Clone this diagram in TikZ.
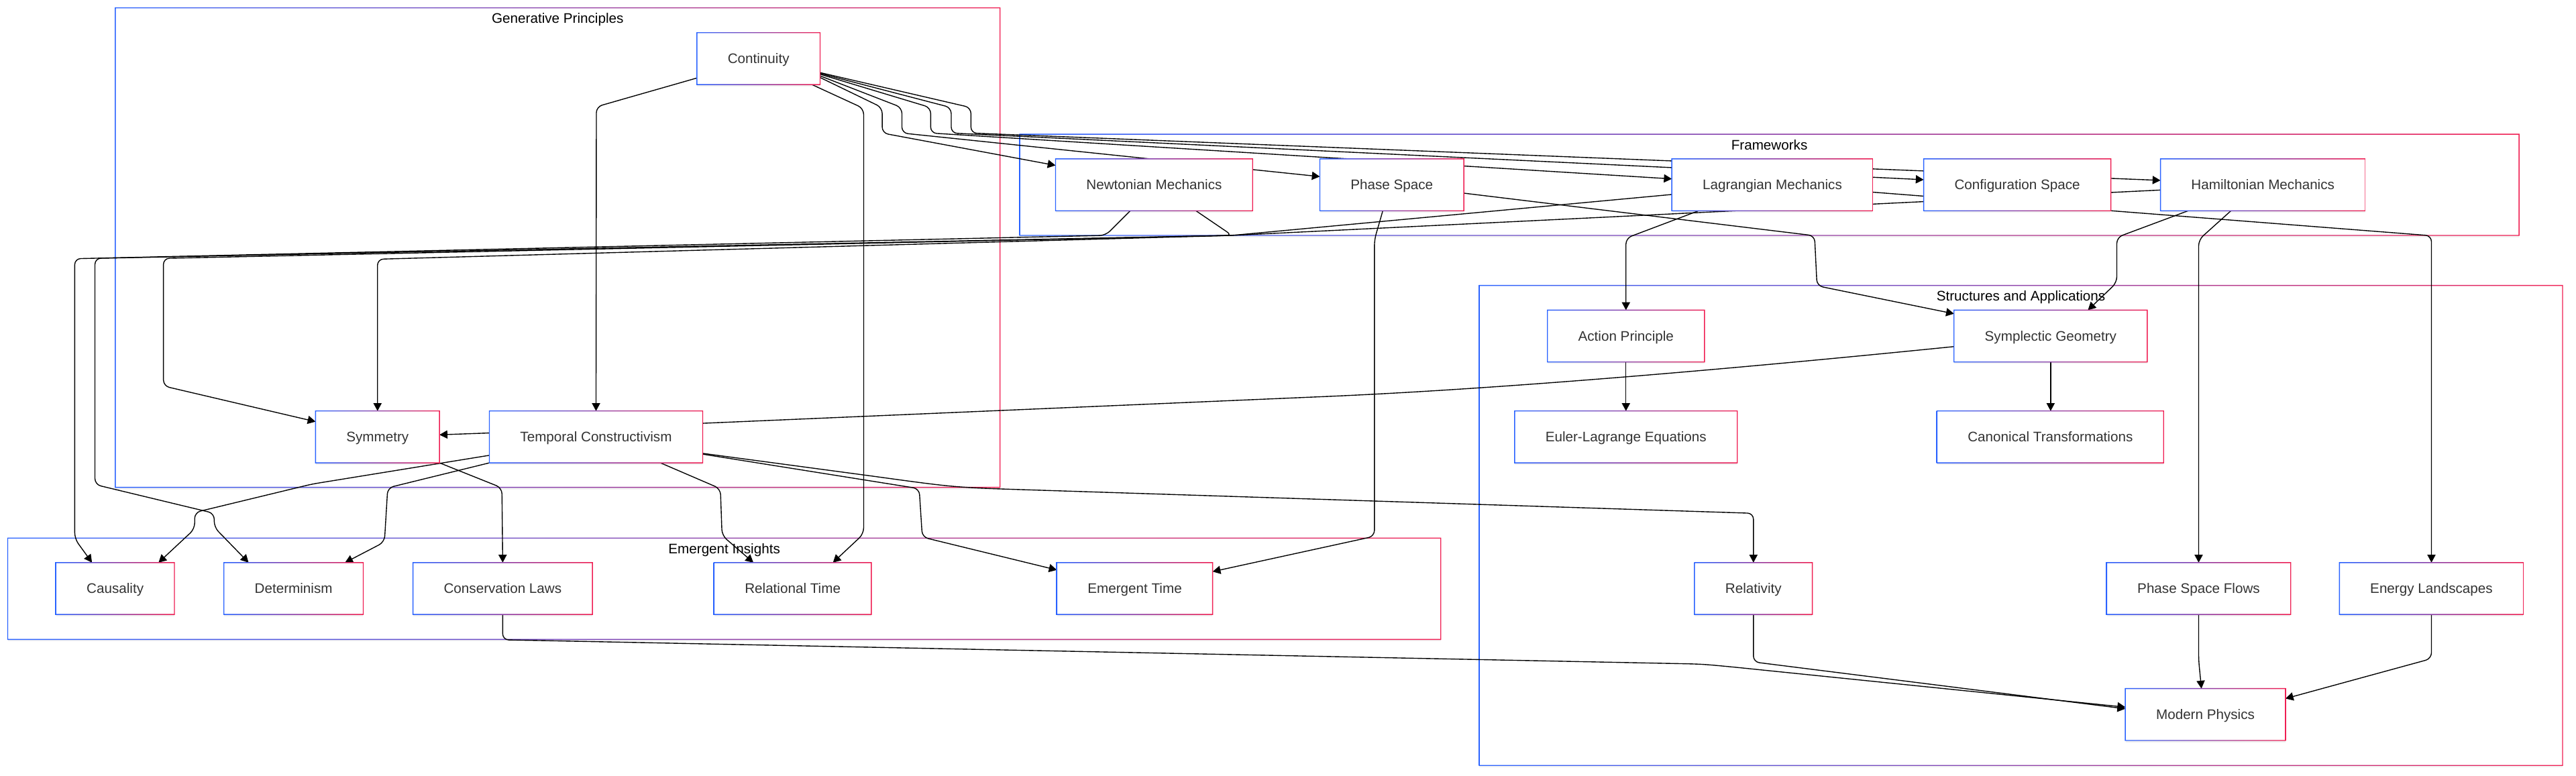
\documentclass[tikz,border=0pt]{standalone}
\usepackage{fontspec}
\setmainfont{Liberation Sans}
\usetikzlibrary{arrows.meta,calc,shadows}
\definecolor{gblue}{RGB}{41,98,255}
\definecolor{gred}{RGB}{240,30,82}
\definecolor{txtgray}{RGB}{51,51,51}
\pgfdeclarelayer{back}
\pgfdeclarelayer{wires}
\pgfsetlayers{back,wires,main}
\tikzset{
    conceptbox/.style = {rectangle,
                    fill=white,
                    text=txtgray,
                    font=\fontsize{12}{14}\selectfont,
                    text height=8.6pt,
                    text depth=0pt,
                    inner xsep=9.3mm,
                    inner ysep=0pt,
                    minimum height=15.65mm,
                    drop shadow={shadow xshift=0pt,
                                 shadow yshift=-0.6mm,
                                 opacity=0.12}},
    grouptitle/.style = {anchor=base,
                    text=black,
                    inner sep=0pt,
                    font=\fontsize{12}{14}\selectfont},
    groupbox/.style = {fill=white,
                    drop shadow={shadow xshift=0pt,
                                 shadow yshift=-0.6mm,
                                 opacity=0.1}},
    wire/.style =   {line width=0.8pt,
                    draw=black,
                    rounded corners=1.8mm},
    link/.style =   {wire, ->},
    >={Triangle[length=2.4mm,width=2.5mm]}}
% gradient outline round a box given by its SW and NE corners
\newcommand{\gradframe}[2]{%
    \shade[left color=gblue, right color=gred, even odd rule]
        ([shift={(-.4pt,-.4pt)}]#1) rectangle ([shift={(.4pt,.4pt)}]#2)
        ([shift={(.4pt,.4pt)}]#1) rectangle ([shift={(-.4pt,-.4pt)}]#2);}

\begin{document}
\begin{tikzpicture}[x=0.5mm, y=-0.5mm]
\useasboundingbox (0,0) rectangle (1568,472.4);

% subgraph frames
\begin{pgfonlayer}{back}
\foreach \xa/\ya/\xb/\yb/\lbl in {70.2/4.8/608.7/296.7/Generative Principles,
                                  620.7/81.7/1533.3/143.3/Frameworks,
                                  900.4/173.8/1559.8/466/Structures and Applications,
                                  4.7/327.6/877/389.3/Emergent Insights}
{
    \fill[groupbox] (\xa,\ya) rectangle (\xb,\yb);
    \gradframe{\xa,\yb}{\xb,\ya}
    \node[grouptitle] at ({(\xa+\xb)/2},{\ya+9.4}) {\lbl};
}
\end{pgfonlayer}

% concepts
\node[conceptbox] (cont)    at (461.7,35.7)   {Continuity};
\node[conceptbox] (newton)  at (702.5,112.5)  {Newtonian Mechanics};
\node[conceptbox] (phase)   at (847.2,112.5)  {Phase Space};
\node[conceptbox] (lagr)    at (1078.8,112.5) {Lagrangian Mechanics};
\node[conceptbox] (config)  at (1227.9,112.5) {Configuration Space};
\node[conceptbox] (hamil)   at (1377.4,112.5) {Hamiltonian Mechanics};
\node[conceptbox] (action)  at (989.7,204.6)  {Action Principle};
\node[conceptbox] (sympl)   at (1248.2,204.6) {Symplectic Geometry};
\node[conceptbox] (euler)   at (989.7,266)    {Euler-Lagrange Equations};
\node[conceptbox] (canon)   at (1248,266)     {Canonical Transformations};
\node[conceptbox] (symm)    at (229.8,266)    {Symmetry};
\node[conceptbox] (tc)      at (362.8,266)    {Temporal Constructivism};
\node[conceptbox] (caus)    at (70.1,358.3)   {Causality};
\node[conceptbox] (determ)  at (178.7,358.3)  {Determinism};
\node[conceptbox] (conserv) at (306,358.3)    {Conservation Laws};
\node[conceptbox] (reltime) at (482.5,358.3)  {Relational Time};
\node[conceptbox] (emtime)  at (690.7,358.3)  {Emergent Time};
\node[conceptbox] (relat)   at (1067.3,358.3) {Relativity};
\node[conceptbox] (psflows) at (1338.3,358.3) {Phase Space Flows};
\node[conceptbox] (energy)  at (1480,358.3)   {Energy Landscapes};
\node[conceptbox] (modern)  at (1342.4,435)   {Modern Physics};

\begin{pgfonlayer}{wires}
% out of Continuity
\draw[link] ($(cont.south west)+(0,-4)$) -- (363,65) -- (tc.north);
\draw[link] ($(cont.south east)+(-5,0)$) -- (525.7,66) -- (525.7,325) -- ($(reltime.north)+(24.5,0)$);
\draw[link] ($(cont.east)+(0,11.5)$) -- (537,65.5) -- (537,81) -- ($(newton.west)+(0,-11.8)$);
\draw[link] ($(cont.east)+(0,10.5)$) -- (549,65.5) -- (549,81) -- ($(phase.west)+(0,-5)$);
\draw[link] ($(cont.east)+(0,9.5)$) -- (566.5,65.5) -- (566.5,81) -- ($(lagr.west)+(0,-3.6)$);
\draw[link] ($(cont.east)+(0,9)$) -- (579,65.5) -- (579,81) -- ($(config.west)+(0,-3.1)$);
\draw[link] ($(cont.east)+(0,8.5)$) -- (591,65.5) -- (591,81) -- ($(hamil.west)+(0,-2.7)$);
% out of Frameworks
\draw[link] ($(newton.south)+(-14.5,0)$) -- (673,143.3) -- (45.5,157.5) -- (45.5,328) -- ($(caus.north)+(-14.1,0)$);
\draw[link] ($(newton.south)+(25.4,0)$) -- (750,143.3) -- (57.8,157.3) -- (57.8,295) -- (130.4,312.5) -- (130.4,321) -- ($(determ.north)+(-27.4,0)$);
\draw[link] ($(lagr.west)+(0,5.9)$) -- (750,143.3) -- (99.5,157.3) -- (99.5,235) -- ($(symm.west)+(0,-9.3)$);
\draw[link] ($(hamil.west)+(0,3.2)$) -- (750,143.3) -- (229.8,157.8) -- (symm.north);
\draw[link] ($(lagr.east)+(0,4.5)$) -- (1480,143.5) -- (energy.north);
\draw[link] ($(lagr.south)+(-44.8,0)$) -- (989.7,145) -- (action.north);
\draw[link] ($(hamil.south)+(-19.4,0)$) -- (1338.3,146) -- (psflows.north);
\draw[link] ($(hamil.south)+(-45.4,0)$) -- (1288.5,144.5) -- (1288.5,172) -- ($(sympl.north)+(22.7,0)$);
\draw[link] ($(phase.east)+(0,5.1)$) -- (1104.5,143.5) -- (1106,174) -- ($(sympl.west)+(0,-13.6)$);
\draw[link] ($(phase.south)+(-5.5,0)$) -- (836.6,146) -- (836.6,326.5) -- ($(emtime.east)+(0,-10.3)$);
% inside Structures and Applications
\draw[link] (action.south) -- (euler.north);
\draw[link] (sympl.south) -- (sympl.south |- canon.north);
% out of Temporal Constructivism
\draw[link] ($(tc.west)+(0,-2.4)$) -- ($(symm.east)+(0,-1.3)$);
\draw[link] ($(tc.west)+(0,11.2)$) -- (190,294.7) -- (118.5,312) -- (118.5,322) -- ($(caus.north)+(26.4,0)$);
\draw[link] (tc.south west) -- (236,297) -- (234,330) -- ($(determ.north)+(31.3,0)$);
\draw[link] ($(tc.south)+(39.2,0)$) -- (438.5,297.5) -- (439.5,326) -- ($(reltime.north)+(-23.9,0)$);
\draw[link] ($(tc.east)+(0,10.5)$) -- (559.5,297.5) -- (561.4,327) -- ($(emtime.west)+(0,-11.3)$);
\draw[link] ($(tc.east)+(0,10)$) -- (532,290) .. controls (581.5,296.8) .. (631.5,298.4) -- (1067.3,312.5) -- (relat.north);
\draw[wire] ($(tc.east)+(0,-8.3)$) -- (800,241.7) .. controls (930,236.2) and (1090,221) .. ($(sympl.west)+(0,6.4)$);
\draw[link] (symm.south east) -- (305.5,297) -- (conserv.north);
% into Modern Physics
\draw[link] (conserv.south) -- (306,389.5) -- (1016,403.9) .. controls (1036,404.3) .. (1056,406.2) -- ($(modern.west)+(0,-4.5)$);
\draw[link] (relat.south) -- (1067.3,403) -- ($(modern.west)+(0,-3.5)$);
\draw[link] (psflows.south) -- (1338.3,402) -- ($(modern.north)+(-2.4,0)$);
\draw[link] (energy.south) -- (1480,401) -- ($(modern.east)+(0,-9.7)$);
\end{pgfonlayer}

% gradient outlines of the concepts
\foreach \n in {cont,newton,phase,lagr,config,hamil,action,sympl,euler,canon,
                symm,tc,caus,determ,conserv,reltime,emtime,relat,psflows,energy,modern}
{
    \gradframe{\n.south west}{\n.north east}
}
\end{tikzpicture}
\end{document}
